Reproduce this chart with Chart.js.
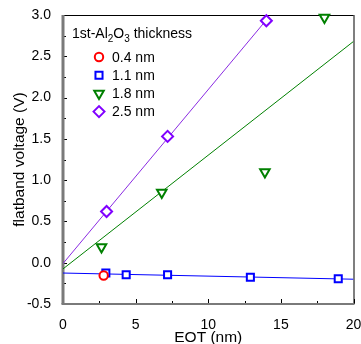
<!DOCTYPE html>
<html>
<head>
<meta charset="utf-8">
<script src="https://cdn.jsdelivr.net/npm/chart.js@4.4.1/dist/chart.umd.min.js"></script>
<style>
  html, body { margin: 0; padding: 0; background: #fff; overflow: hidden; }
</style>
</head>
<body>
<canvas id="fbChart" width="361" height="344"></canvas>
<script>
// flatband voltage (V) vs EOT (nm), one series per 1st-Al2O3 thickness
var eot04 = [2.8];
var vfb04 = [-0.155];
var eot11 = [2.95, 4.35, 7.2, 12.9, 18.95];
var vfb11 = [-0.125, -0.145, -0.145, -0.175, -0.195];
var eot18 = [2.65, 6.8, 13.9, 18.0];
var vfb18 = [0.19, 0.85, 1.10, 2.97];
var eot25 = [3.0, 7.2, 14.0];
var vfb25 = [0.62, 1.53, 2.93];

// linear fit end points
var fit11X = [0, 20];
var fit11Y = [-0.125, -0.20];
var fit18X = [0, 20];
var fit18Y = [-0.075, 2.68];
var fit25X = [0, 14];
var fit25Y = [-0.01, 2.94];

var xTicks = [0, 5, 10, 15, 20];
var yTicks = [-0.5, 0, 0.5, 1.0, 1.5, 2.0, 2.5, 3.0];
var seriesNames = ['0.4 nm', '1.1 nm', '1.8 nm', '2.5 nm'];

var FONT = '"Liberation Sans", Arial, sans-serif';

function pts(xs, ys) {
  return xs.map(function (x, i) { return { x: x, y: ys[i] }; });
}

function marker(label, xs, ys, color, style, radius, rot) {
  return {
    type: 'scatter',
    label: label,
    data: pts(xs, ys),
    borderColor: color,
    backgroundColor: '#fff',
    borderWidth: 2,
    pointStyle: style,
    pointRadius: radius,
    pointRotation: rot || 0,
    pointHoverRadius: radius,
    clip: false
  };
}

function fitLine(xs, ys, color) {
  return {
    type: 'line',
    label: '',
    data: pts(xs, ys),
    borderColor: color,
    borderWidth: 1,
    pointRadius: 0,
    fill: false,
    tension: 0
  };
}

// spines + inward ticks like the origin plot
var framePlugin = {
  id: 'frame',
  beforeDatasetsDraw: function (chart) {
    var ctx = chart.ctx, a = chart.chartArea;
    var xs = chart.scales.x, ys = chart.scales.y;
    ctx.save();
    ctx.strokeStyle = '#000';
    ctx.lineWidth = 1;
    ctx.beginPath();
    ctx.moveTo(a.left, a.top + 0.5);
    ctx.lineTo(a.right + 0.5, a.top + 0.5);
    ctx.stroke();
    ctx.strokeStyle = '#555';
    ctx.lineWidth = 1.5;
    ctx.beginPath();
    ctx.moveTo(a.right + 0.5, a.top);
    ctx.lineTo(a.right + 0.5, a.bottom);
    ctx.stroke();

    ctx.strokeStyle = '#000';
    ctx.lineWidth = 1;
    var i, p;
    for (i = 0; i < xTicks.length; i++) {
      p = Math.round(xs.getPixelForValue(xTicks[i])) + 0.5;
      ctx.beginPath(); ctx.moveTo(p, a.bottom); ctx.lineTo(p, a.bottom - 5); ctx.stroke();
      if (i < xTicks.length - 1) {
        p = Math.round(xs.getPixelForValue((xTicks[i] + xTicks[i + 1]) / 2)) + 0.5;
        ctx.beginPath(); ctx.moveTo(p, a.bottom); ctx.lineTo(p, a.bottom - 3); ctx.stroke();
      }
    }
    for (i = 0; i < yTicks.length; i++) {
      p = Math.round(ys.getPixelForValue(yTicks[i])) + 0.5;
      ctx.beginPath(); ctx.moveTo(a.left, p); ctx.lineTo(a.left + 4, p); ctx.stroke();
      if (i < yTicks.length - 1) {
        p = Math.round(ys.getPixelForValue((yTicks[i] + yTicks[i + 1]) / 2)) + 0.5;
        ctx.beginPath(); ctx.moveTo(a.left, p); ctx.lineTo(a.left + 3, p); ctx.stroke();
      }
    }

    ctx.strokeStyle = '#7a7a7a';
    ctx.lineWidth = 3;
    ctx.beginPath();
    ctx.moveTo(a.left, a.top);
    ctx.lineTo(a.left, a.bottom);
    ctx.stroke();
    ctx.lineWidth = 2;
    ctx.beginPath();
    ctx.moveTo(a.left - 1.5, a.bottom);
    ctx.lineTo(a.right + 1, a.bottom);
    ctx.stroke();
    ctx.restore();
  }
};

// legend sits inside the plot, title has subscripts
var legendPlugin = {
  id: 'insideLegend',
  afterDraw: function (chart) {
    var ctx = chart.ctx;
    ctx.save();
    ctx.fillStyle = '#000';
    ctx.textBaseline = 'alphabetic';
    ctx.textAlign = 'left';
    var x = 72, base = 38;
    var parts = [['1st-Al', 0], ['2', 1], ['O', 0], ['3', 1], [' thickness', 0]];
    parts.forEach(function (pt) {
      ctx.font = (pt[1] ? '10px ' : '14px ') + FONT;
      ctx.fillText(pt[0], x, base + (pt[1] ? 4 : 0));
      x += ctx.measureText(pt[0]).width;
    });

    ctx.font = '14px ' + FONT;
    ctx.textBaseline = 'middle';
    for (var i = 0; i < seriesNames.length; i++) {
      var ds = chart.data.datasets[i];
      var y = 57 + i * 18.2;
      ctx.strokeStyle = ds.borderColor;
      ctx.fillStyle = '#fff';
      ctx.lineWidth = 2;
      Chart.helpers.drawPoint(ctx, {
        pointStyle: ds.pointStyle,
        radius: ds.pointRadius,
        rotation: ds.pointRotation,
        borderWidth: 2
      }, 99, y);
      ctx.fillStyle = '#000';
      ctx.fillText(seriesNames[i], 112, y + 1);
    }
    ctx.restore();
  }
};

var ctx = document.getElementById('fbChart').getContext('2d');

new Chart(ctx, {
  data: {
    datasets: [
      marker(seriesNames[0], eot04, vfb04, '#ff0000', 'circle', 4.2),
      marker(seriesNames[1], eot11, vfb11, '#0000ff', 'rect', 5),
      marker(seriesNames[2], eot18, vfb18, '#008000', 'triangle', 5.5, 180),
      marker(seriesNames[3], eot25, vfb25, '#8000ff', 'rectRot', 5.5),
      fitLine(fit11X, fit11Y, '#0000ff'),
      fitLine(fit18X, fit18Y, '#008000'),
      fitLine(fit25X, fit25Y, '#8a2be2')
    ]
  },
  options: {
    responsive: false,
    animation: false,
    devicePixelRatio: 1,
    layout: { padding: { top: 15, right: 6, left: 0, bottom: 0 } },
    plugins: {
      legend: { display: false },
      tooltip: { enabled: false }
    },
    scales: {
      x: {
        type: 'linear',
        min: 0,
        max: 20,
        grid: { display: false },
        border: { display: false },
        afterBuildTicks: function (s) { s.ticks = xTicks.map(function (v) { return { value: v }; }); },
        afterFit: function (s) { s.height = 40; s.paddingLeft = 0; s.paddingRight = 0; },
        ticks: {
          color: '#000',
          padding: 5,
          font: { family: FONT, size: 14 }
        },
        title: {
          display: true,
          text: 'EOT (nm)',
          color: '#000',
          padding: { top: 0, bottom: -3 },
          font: { family: FONT, size: 15.5 }
        }
      },
      y: {
        type: 'linear',
        min: -0.5,
        max: 3.0,
        grid: { display: false },
        border: { display: false },
        afterBuildTicks: function (s) { s.ticks = yTicks.map(function (v) { return { value: v }; }); },
        afterFit: function (s) { s.width = 63; s.paddingTop = 0; s.paddingBottom = 0; },
        ticks: {
          color: '#000',
          padding: 4,
          font: { family: FONT, size: 14 },
          callback: function (v) { return Number(v).toFixed(1); }
        },
        title: {
          display: true,
          text: 'flatband voltage (V)',
          color: '#000',
          padding: { top: 10, bottom: 0 },
          font: { family: FONT, size: 15.5 }
        }
      }
    }
  },
  plugins: [framePlugin, legendPlugin]
});
</script>
</body>
</html>
